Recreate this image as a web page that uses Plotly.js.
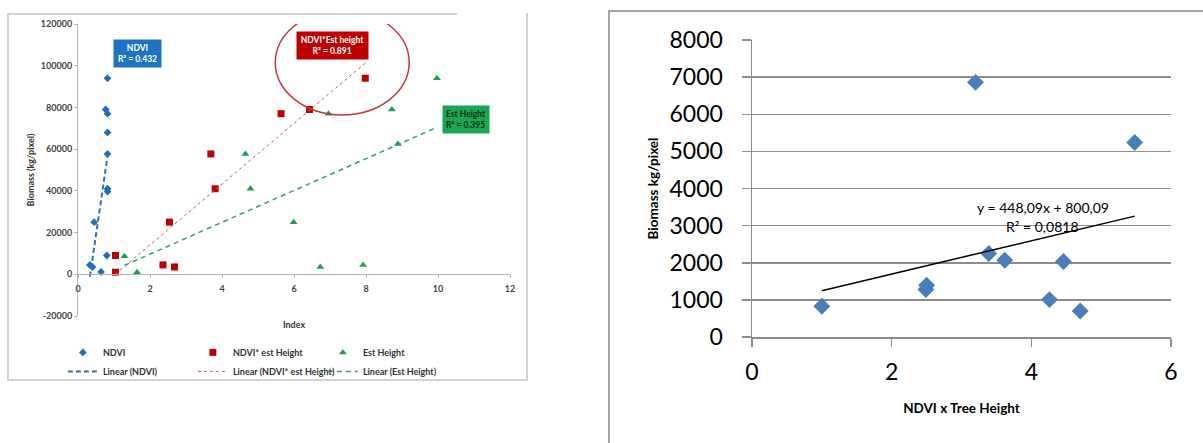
<!DOCTYPE html>
<html><head><meta charset="utf-8">
<script src="https://cdn.plot.ly/plotly-3.0.1.min.js"></script>
<style>
html,body{margin:0;padding:0;background:#fff;width:1203px;height:443px;overflow:hidden;position:relative;}
#left{position:absolute;left:0;top:0;width:600px;height:443px;}
#right{position:absolute;left:600px;top:0;width:603px;height:443px;}
.frame{position:absolute;pointer-events:none;}
</style></head><body>
<div id="left"></div>
<div id="right"></div>
<div class="frame" style="left:7px;top:13px;width:517px;height:366px;border-left:2px solid #d2d2d2;border-right:2px solid #d2d2d2;border-bottom:2px solid #d2d2d2;"></div>
<div class="frame" style="left:7px;top:13px;width:450px;height:2px;background:#d2d2d2;"></div>
<div class="frame" style="left:608px;top:10px;width:600px;height:440px;border-left:2px solid #a4a4a4;border-top:2px solid #a4a4a4;"></div>
<script>
// ---------- Left chart: Biomass vs Index ----------
const ndviX = [0.82, 0.77, 0.82, 0.82, 0.82, 0.82, 0.82, 0.45, 0.80, 0.33, 0.40, 0.64];
const ndviY = [94000, 79000, 77000, 68000, 57700, 41000, 39700, 25000, 9000, 4500, 3500, 1100];
const prodX = [1.04, 1.04, 2.36, 2.68, 2.54, 3.69, 3.81, 5.64, 6.43, 7.98];
const prodY = [9000, 1000, 4500, 3500, 25000, 57700, 41000, 77000, 79000, 94000];
const estX = [1.29, 1.64, 4.65, 4.79, 5.99, 6.73, 7.92, 6.96, 8.72, 9.97, 8.89];
const estY = [8600, 1000, 57700, 41000, 25000, 3500, 4500, 77000, 79000, 94000, 62500];
const leftYRange = [-20000, 120000];
const leftXRange = [0, 12];
const leftYTicks = [-20000, 0, 20000, 40000, 60000, 80000, 100000, 120000];
const leftYTickText = ['-20000', '0', '20000', '40000', '60000', '80000', '100000', '120000'];
const leftXTicks = [0, 2, 4, 6, 8, 10, 12];
const leftXTickText = ['0', '2', '4', '6', '8', '10', '12'];

// ---------- Right chart: Biomass vs NDVI x Tree Height ----------
const treeX = [1.0, 2.5, 2.49, 3.39, 3.62, 4.46, 4.26, 4.70, 3.20, 5.48];
const treeY = [830, 1394, 1278, 2248, 2068, 2032, 1008, 701, 6859, 5241];
const rightFit = [448.09, 800.09];
const rightXTicks = [0, 2, 4, 6];
const rightYTicks = [0, 1000, 2000, 3000, 4000, 5000, 6000, 7000, 8000];

function linFit(xs, ys) {
  const n = xs.length;
  const mx = xs.reduce((a, b) => a + b, 0) / n;
  const my = ys.reduce((a, b) => a + b, 0) / n;
  let sxy = 0, sxx = 0;
  for (let i = 0; i < n; i++) { sxy += (xs[i] - mx) * (ys[i] - my); sxx += (xs[i] - mx) ** 2; }
  const m = sxy / sxx;
  return [m, my - m * mx];
}
function fitLine(xs, fit) {
  const lo = Math.min(...xs), hi = Math.max(...xs);
  return { x: [lo, hi], y: [fit[0] * lo + fit[1], fit[0] * hi + fit[1]] };
}

const FONT = 'Lato, "Open Sans", sans-serif';
const blue = '#1f6fc0', red = '#c00000', green = '#1ea04a';

const lNdvi = fitLine(ndviX, linFit(ndviX, ndviY));
const lProd = fitLine(prodX, linFit(prodX, prodY));
const lEst = fitLine(estX, linFit(estX, estY));

const leftTraces = [
  { type: 'scatter', mode: 'markers', name: 'NDVI', x: ndviX, y: ndviY,
    marker: { symbol: 'diamond', size: 6, color: blue } },
  { type: 'scatter', mode: 'markers', name: 'NDVI* est Height', x: prodX, y: prodY,
    marker: { symbol: 'square', size: 7, color: red } },
  { type: 'scatter', mode: 'markers', name: 'Est Height', x: estX, y: estY,
    marker: { symbol: 'triangle-up', size: 7, color: green } },
  { type: 'scatter', mode: 'lines', name: 'Linear (NDVI)', x: lNdvi.x, y: lNdvi.y,
    line: { color: '#2a70c0', width: 2, dash: '5px,3px' } },
  { type: 'scatter', mode: 'lines', name: 'Linear (NDVI* est Height)', x: lProd.x, y: lProd.y,
    line: { color: '#c85a5a', width: 1, dash: 'dot' } },
  { type: 'scatter', mode: 'lines', name: 'Linear (Est Height)', x: lEst.x, y: lEst.y,
    line: { color: '#2fa36a', width: 1.5, dash: '5px,4px' } }
];

const zeroPos = (0 - leftYRange[0]) / (leftYRange[1] - leftYRange[0]);

const leftLayout = {
  width: 600, height: 443,
  margin: { l: 78, r: 90, t: 24, b: 127, autoexpand: false },
  paper_bgcolor: 'rgba(0,0,0,0)', plot_bgcolor: 'rgba(0,0,0,0)',
  font: { family: FONT, size: 9, color: '#333' },
  showlegend: true,
  legend: { orientation: 'h', x: -0.035, xanchor: 'left', y: -0.075, yanchor: 'top',
    entrywidth: 85, entrywidthmode: 'pixels', traceorder: 'normal', tracegroupgap: 0,
    font: { family: FONT, size: 9, color: '#333', weight: 'bold' }, bgcolor: 'rgba(0,0,0,0)' },
  xaxis: { range: leftXRange, anchor: 'free', position: zeroPos,
    tickvals: leftXTicks, ticktext: leftXTickText,
    showgrid: false, zeroline: false, showline: true, linecolor: '#b4b4b4', linewidth: 1,
    ticks: 'outside', ticklen: 3, tickcolor: '#b4b4b4', ticklabelstandoff: 3,
    tickfont: { family: FONT, size: 9, color: '#444', weight: 'bold' },
    title: { text: 'Index', font: { family: FONT, size: 9, color: '#333', weight: 'bold' }, standoff: 28 } },
  yaxis: { range: leftYRange, tickvals: leftYTicks, ticktext: leftYTickText,
    showgrid: false, zeroline: false, showline: true, linecolor: '#b4b4b4', linewidth: 1,
    ticks: 'outside', ticklen: 3, tickcolor: '#b4b4b4',
    tickfont: { family: FONT, size: 9, color: '#444', weight: 'bold' },
    title: { text: 'Biomass (kg/pixel)', font: { family: FONT, size: 9, color: '#333', weight: 'bold' }, standoff: 4 } },
  shapes: [
    { type: 'circle', xref: 'x', yref: 'y', x0: 5.48, x1: 9.2, y0: 76400, y1: 126650,
      line: { color: '#c8323a', width: 1.5 } }
  ],
  annotations: [
    { xref: 'x', yref: 'y', x: 1.64, y: 105700, text: 'NDVI<br>R² = 0.432', showarrow: false,
      width: 47, height: 27, bgcolor: '#1e73c2', borderpad: 0,
      font: { family: FONT, size: 8.5, color: '#fff', weight: 'bold' } },
    { xref: 'x', yref: 'y', x: 7.06, y: 109900, text: 'NDVI*Est height<br>R² = 0.891', showarrow: false,
      width: 71, height: 27, bgcolor: '#c00000', borderpad: 0,
      font: { family: FONT, size: 8.5, color: '#fff', weight: 'bold' } },
    { xref: 'x', yref: 'y', x: 10.79, y: 74160, text: 'Est Height<br>R² = 0.395', showarrow: false,
      width: 46, height: 27, bgcolor: '#1aa84f', borderpad: 0,
      font: { family: FONT, size: 8.5, color: '#10301a', weight: 'bold' } }
  ]
};

Plotly.newPlot('left', leftTraces, leftLayout, { staticPlot: true, displayModeBar: false });

// ---------- Right chart ----------
const rLine = fitLine(treeX, rightFit);
const fmt = v => v.toFixed(2).replace('.', ',');
const rightTraces = [
  { type: 'scatter', mode: 'markers', x: treeX, y: treeY,
    marker: { symbol: 'diamond', size: 13, color: '#4a7ebb' } },
  { type: 'scatter', mode: 'lines', x: rLine.x, y: rLine.y,
    line: { color: '#000', width: 1.5 } }
];
const gridC = '#8c8c8c';
const rightLayout = {
  width: 603, height: 443,
  margin: { l: 152, r: 32, t: 40, b: 106, autoexpand: false },
  paper_bgcolor: 'rgba(0,0,0,0)', plot_bgcolor: 'rgba(0,0,0,0)',
  font: { family: FONT, size: 23, color: '#000' },
  showlegend: false,
  xaxis: { range: [0, 6], tickvals: rightXTicks, ticktext: rightXTicks.map(String),
    showgrid: false, zeroline: false, showline: true, linecolor: gridC, linewidth: 1.5,
    ticks: 'outside', ticklen: 8, tickwidth: 1.5, tickcolor: gridC, ticklabelstandoff: 6,
    tickfont: { family: FONT, size: 23, color: '#000' },
    title: { text: 'NDVI x Tree Height', font: { family: FONT, size: 13.5, color: '#000', weight: 'bold' }, standoff: 19 } },
  yaxis: { range: [0, 8000], tickvals: rightYTicks, ticktext: rightYTicks.map(String),
    showgrid: true, gridcolor: gridC, gridwidth: 1.5, zeroline: false,
    showline: true, linecolor: gridC, linewidth: 1.5,
    ticks: 'outside', ticklen: 9, tickwidth: 1.5, tickcolor: gridC, ticklabelstandoff: 14,
    tickfont: { family: FONT, size: 23, color: '#000' },
    title: { text: 'Biomass kg/pixel', font: { family: FONT, size: 13.5, color: '#000', weight: 'bold' }, standoff: 8 } },
  annotations: [
    { xref: 'x', yref: 'y', x: 4.16, y: 3497, showarrow: false,
      text: 'y = ' + fmt(rightFit[0]) + 'x + ' + fmt(rightFit[1]),
      font: { family: FONT, size: 14, color: '#000' } },
    { xref: 'x', yref: 'y', x: 4.16, y: 2966, showarrow: false,
      text: 'R² = 0,0818', font: { family: FONT, size: 14, color: '#000' } }
  ]
};
Plotly.newPlot('right', rightTraces, rightLayout, { staticPlot: true, displayModeBar: false });
</script>
</body></html>
